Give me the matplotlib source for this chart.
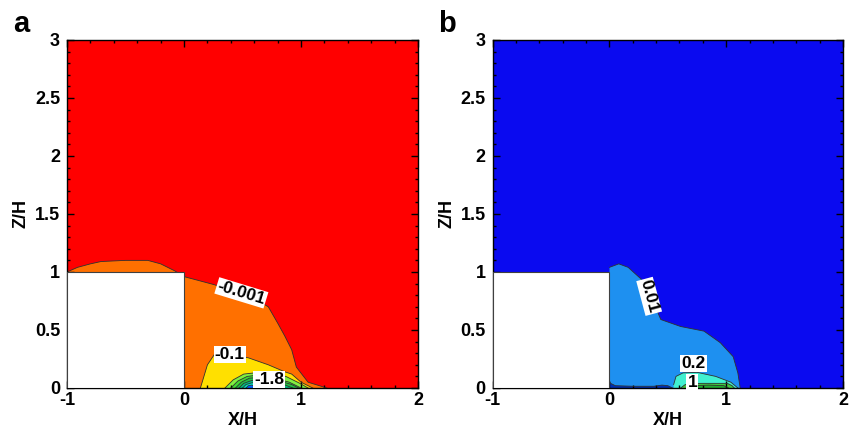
import matplotlib.pyplot as plt
from matplotlib.patches import Rectangle
from matplotlib.ticker import MultipleLocator

plt.rcParams['font.family'] = ['Liberation Sans', 'DejaVu Sans']
plt.rcParams['font.weight'] = 'bold'
plt.rcParams['font.size'] = 13
plt.rcParams['axes.unicode_minus'] = False

# obstacle (white block)
block_x0, block_w, block_h = -1.0, 1.0, 1.0

# ---- panel a: contour outlines (X/H, Z/H) ----
a_levels = ['-0.001', '-0.1', '-0.3', '-0.6', '-0.9', '-1.2', '-1.5', '-1.8']
a_colors = ['#ff7000', '#ffe000', '#80f040', '#40d830', '#20c040',
            '#00c080', '#00e0c0', '#0060ff']
a_bg = '#ff0000'
a_x = [
    [-1.0, -0.91, -0.8, -0.71, -0.5, -0.31, -0.2, -0.08, 0.0, 0.26, 0.45,
     0.6, 0.72, 0.8, 0.86, 0.92, 0.96, 1.06, 1.22],
    [0.14, 0.17, 0.2, 0.26, 0.4, 0.55, 0.72, 0.86, 0.92, 1.0, 1.1],
    [0.35, 0.42, 0.51, 0.6, 0.72, 0.87, 0.99, 1.06],
    [0.4, 0.46, 0.54, 0.62, 0.75, 0.9, 1.0],
    [0.44, 0.49, 0.56, 0.64, 0.78, 0.92, 0.98],
    [0.47, 0.51, 0.58, 0.66, 0.8, 0.93],
    [0.5, 0.53, 0.58, 0.65, 0.75, 0.85],
    [0.53, 0.55, 0.58, 0.62],
]
a_z = [
    [1.0, 1.04, 1.07, 1.09, 1.1, 1.1, 1.07, 1.01, 0.96, 0.89, 0.82,
     0.77, 0.7, 0.56, 0.45, 0.33, 0.18, 0.05, 0.0],
    [0.0, 0.1, 0.2, 0.29, 0.29, 0.26, 0.2, 0.14, 0.12, 0.05, 0.0],
    [0.0, 0.07, 0.12, 0.13, 0.12, 0.1, 0.04, 0.0],
    [0.0, 0.06, 0.1, 0.11, 0.09, 0.05, 0.0],
    [0.0, 0.05, 0.085, 0.09, 0.07, 0.03, 0.0],
    [0.0, 0.04, 0.065, 0.07, 0.05, 0.0],
    [0.0, 0.03, 0.045, 0.05, 0.035, 0.0],
    [0.0, 0.02, 0.025, 0.0],
]
a_labels = ['-0.001', '-0.1', '-1.8']
a_label_x = [0.49, 0.39, 0.73]
a_label_z = [0.82, 0.29, 0.07]
a_label_rot = [-17, 0, 0]

# ---- panel b ----
b_colors = ['#1e90f0', '#002fb0', '#40f0d0', '#40c840', '#20a830']
b_bg = '#0a0af0'
b_x = [
    [0.0, 0.08, 0.16, 0.27, 0.36, 0.44, 0.61, 0.81, 0.95, 1.06, 1.1, 1.12],
    [0.0, 0.01, 0.05, 0.2, 0.38, 0.45, 0.5, 0.54],
    [0.55, 0.57, 0.63, 0.75, 0.91, 1.04, 1.1],
    [0.61, 0.65, 0.78, 1.01, 1.05, 1.07],
    [0.66, 0.7, 0.85, 0.98, 1.02],
]
b_z = [
    [1.04, 1.07, 1.04, 0.94, 0.78, 0.59, 0.53, 0.49, 0.39, 0.27, 0.13, 0.0],
    [0.06, 0.04, 0.02, 0.015, 0.015, 0.025, 0.02, 0.0],
    [0.03, 0.1, 0.13, 0.135, 0.1, 0.05, 0.0],
    [0.0, 0.03, 0.04, 0.04, 0.02, 0.0],
    [0.0, 0.02, 0.025, 0.02, 0.0],
]
b_labels = ['0.01', '0.2', '1']
b_label_x = [0.34, 0.72, 0.71]
b_label_z = [0.79, 0.21, 0.045]
b_label_rot = [-75, 0, 0]

fig = plt.figure(figsize=(8.54, 4.34), dpi=100)
ax_a = fig.add_axes([0.0785, 0.106, 0.411, 0.802])
ax_b = fig.add_axes([0.577, 0.106, 0.410, 0.802])


def draw_panel(ax, bg, colors, xs, zs, labels, lx, lz, lrot, letter):
    ax.set_facecolor(bg)
    for c, x, z in zip(colors, xs, zs):
        px = list(x) + [x[-1], x[0]]
        pz = list(z) + [0.0, 0.0]
        ax.fill(px, pz, color=c, lw=0)
        ax.plot(x, z, color='#303030', lw=0.6)
    ax.add_patch(Rectangle((block_x0, 0), block_w, block_h, facecolor='white',
                           edgecolor='#404040', lw=0.8, zorder=3))
    for t, x, z, r in zip(labels, lx, lz, lrot):
        ax.text(x, z, t, rotation=r, ha='center', va='center', fontsize=12.5,
                fontweight='bold', zorder=4,
                bbox=dict(facecolor='white', edgecolor='none', pad=0.8))
    ax.set_xlim(-1, 2)
    ax.set_ylim(0, 3)
    ax.xaxis.set_major_locator(MultipleLocator(1))
    ax.xaxis.set_minor_locator(MultipleLocator(0.2))
    ax.yaxis.set_major_locator(MultipleLocator(0.5))
    ax.yaxis.set_minor_locator(MultipleLocator(0.1))
    ax.yaxis.set_major_formatter(plt.FuncFormatter(lambda v, p: f'{v:g}'))
    ax.tick_params(which='both', direction='in', top=True, right=True,
                   labelsize=13, width=1)
    ax.tick_params(which='major', length=5)
    ax.tick_params(which='minor', length=2.5)
    ax.tick_params(axis='x', pad=3)
    ax.tick_params(axis='y', pad=5)
    for s in ax.spines.values():
        s.set_linewidth(1.0)
    ax.set_xlabel('X/H', fontsize=13, fontweight='bold', labelpad=2)
    ax.set_ylabel('Z/H', fontsize=13, fontweight='bold', labelpad=4)
    ax.text(-0.13, 1.045, letter, transform=ax.transAxes, fontsize=21,
            fontweight='bold', ha='center', va='center')


draw_panel(ax_a, a_bg, a_colors, a_x, a_z, a_labels, a_label_x, a_label_z,
           a_label_rot, 'a')
draw_panel(ax_b, b_bg, b_colors, b_x, b_z, b_labels, b_label_x, b_label_z,
           b_label_rot, 'b')

fig.savefig('out.png', dpi=100)
